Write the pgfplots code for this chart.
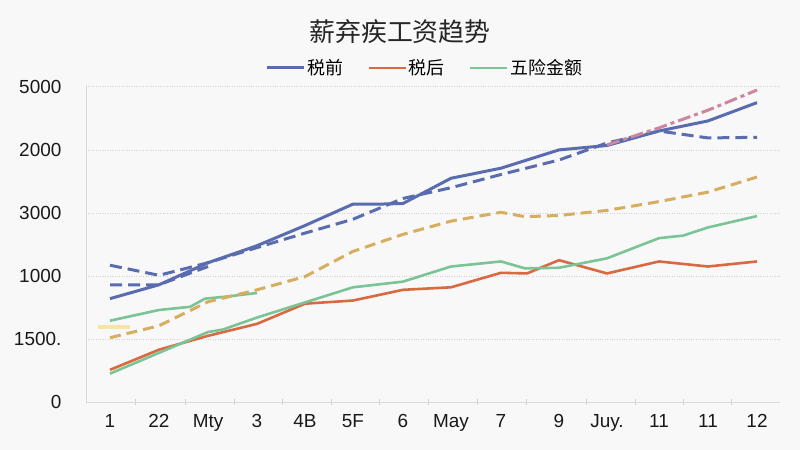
\documentclass[border=0pt]{standalone}
\usepackage{pgfplots}
\pgfplotsset{compat=1.18}
\usepackage{fontspec}
\setmainfont{Liberation Sans}
\newfontfamily\cjk{Noto Sans CJK SC}
\definecolor{bgcol}{RGB}{248,248,248}
\definecolor{cblue}{RGB}{90,108,176}
\definecolor{corange}{RGB}{218,104,64}
\definecolor{cgreen}{RGB}{122,196,150}
\definecolor{ctan}{RGB}{214,174,96}
\definecolor{cpink}{RGB}{204,134,160}
\definecolor{cpale}{RGB}{246,228,168}
\begin{document}
\begin{tikzpicture}
\fill[bgcol] (0bp,0bp) rectangle (800bp,450bp);
\node[font=\cjk\fontsize{26}{30}\selectfont, text=black!85] at (400bp,418bp) {薪弃疾工资趋势};
\begin{axis}[
  at={(86bp,48bp)}, anchor=south west,
  scale only axis, width=694bp, height=317bp,
  xmin=86, xmax=780, ymin=0, ymax=5.03,
  axis x line=bottom, axis y line=left,
  axis line style={draw=gray!30, line width=0.8pt, -},
  xtick={110,159,208,257,305,353,403,451,501,559,607,659,708,757},
  xticklabels={1,22,Mty,3,4B,5F,6,May,7,9,Juy.,11,11,12},
  minor xtick={135,185,234,282,331,379,428,477,526,586,635,683,731},
  major x tick style={draw=none},
  minor x tick style={draw=gray!35, line width=0.6pt},
  minor tick length=5bp,
  ytick={0,1,2,3,4,5},
  yticklabels={0,1500.,1000,3000,2000,5000},
  major y tick style={draw=none},
  ymajorgrids,
  grid style={gray!35, dotted, line width=0.8pt},
  /pgf/number format/assume math mode=true,
  tick label style={font=\fontsize{19}{22}\selectfont, text=black!90},
  yticklabel style={xshift=-19bp},
  xticklabel style={yshift=-7bp},
  legend style={at={(0.488,1.054)}, anchor=center, legend columns=3,
    draw=none, fill=none, font=\cjk\fontsize{18}{21}\selectfont,
    /tikz/every even column/.append style={column sep=22bp}},
  legend image code/.code={\draw[#1] (0bp,0bp) -- (37bp,0bp);},
  clip=false,
]
% 税前 solid
\addplot[cblue, line width=3bp] coordinates {
(110,1.64) (159,1.86) (208,2.21) (257,2.48) (305,2.80) (353,3.14) (380,3.14) (403,3.15)
(451,3.55) (501,3.71) (559,4.00) (607,4.07) (659,4.30) (708,4.46) (757,4.75)};
\addlegendentry{税前}
% 税后
\addplot[corange, line width=2.6bp] coordinates {
(110,0.51) (159,0.83) (208,1.05) (257,1.24) (305,1.56) (353,1.61) (403,1.78) (451,1.82)
(501,2.05) (527,2.04) (559,2.25) (607,2.04) (659,2.23) (708,2.15) (757,2.23)};
\addlegendentry{税后}
% 五险金额
\addplot[cgreen, line width=2.6bp] coordinates {
(110,0.45) (159,0.78) (208,1.11) (223,1.15) (257,1.34) (305,1.58) (353,1.82) (403,1.91)
(451,2.15) (501,2.23) (525,2.12) (559,2.13) (607,2.28) (659,2.60) (683,2.64) (708,2.77) (757,2.95)};
\addlegendentry{五险金额}
% green upper short
\addplot[cgreen, line width=2.6bp, forget plot] coordinates {
(110,1.29) (159,1.46) (190,1.51) (205,1.64) (225,1.67) (257,1.73)};
% pale yellow short
\addplot[cpale, line width=4bp, forget plot] coordinates {(98,1.19) (130,1.19)};
% tan dashed
\addplot[ctan, line width=3bp, dash pattern=on 11bp off 6bp, forget plot] coordinates {
(110,1.02) (159,1.21) (208,1.59) (257,1.78) (305,1.99) (353,2.39) (403,2.66) (451,2.87)
(501,3.01) (525,2.94) (559,2.96) (607,3.04) (659,3.18) (708,3.33) (757,3.57)};
% blue dashed
\addplot[cblue, line width=3bp, dash pattern=on 12bp off 6bp, forget plot] coordinates {
(110,2.17) (159,2.01) (208,2.21) (257,2.45) (305,2.68) (353,2.90) (403,3.23) (451,3.40)
(501,3.61) (559,3.84) (607,4.11) (659,4.30) (708,4.19) (757,4.20)};
\addplot[cblue, line width=3bp, dash pattern=on 12bp off 6bp, forget plot] coordinates {
(110,1.86) (159,1.86) (208,2.15)};
% pink dash-dot
\addplot[cpink, line width=3bp, dash pattern=on 13bp off 4bp on 4bp off 4bp, forget plot] coordinates {
(607,4.08) (659,4.35) (708,4.63) (757,4.95)};
\end{axis}
\end{tikzpicture}
\end{document}
